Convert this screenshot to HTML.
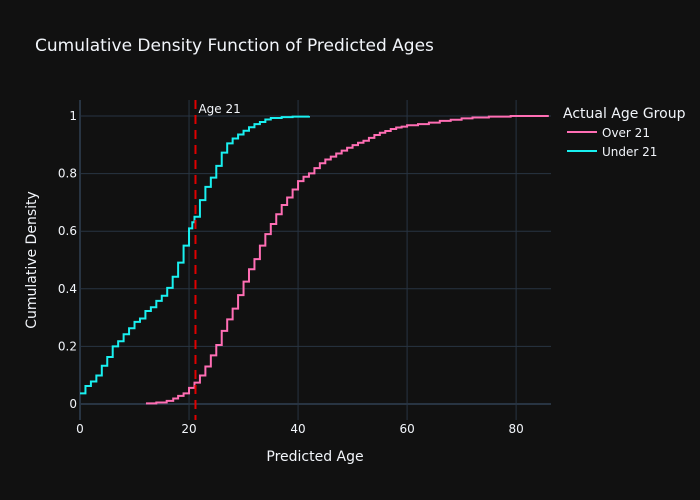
<!DOCTYPE html>
<html><head><meta charset="utf-8"><style>
html,body{margin:0;padding:0;background:#111111;}
svg{display:block;font-family:"DejaVu Sans","Liberation Sans",sans-serif;}
</style></head><body>
<svg id="chart" width="700" height="500">
<rect width="700" height="500" fill="#111111"/>
<text x="35" y="51" font-size="17" fill="#f2f5fa">Cumulative Density Function of Predicted Ages</text>
<g id="grid"></g>
<g id="series"></g>
<g id="ticks"></g>
<text x="315" y="461" font-size="14" fill="#f2f5fa" text-anchor="middle">Predicted Age</text>
<text transform="translate(36,260) rotate(-90)" font-size="14" fill="#f2f5fa" text-anchor="middle">Cumulative Density</text>
<g>
<text x="563" y="118" font-size="14" fill="#f2f5fa">Actual Age Group</text>
<g><line x1="567" y1="132" x2="597" y2="132" stroke="#FF6EB4" stroke-width="2"/><text x="602" y="137" font-size="12" fill="#f2f5fa">Over 21</text></g>
<g><line x1="567" y1="151" x2="597" y2="151" stroke="#19F0F0" stroke-width="2"/><text x="602" y="156" font-size="12" fill="#f2f5fa">Under 21</text></g>
</g>
</svg>
<script>
const underAges=[0,1,2,3,4,5,6,7,8,9,10,11,12,13,14,15,16,17,18,19,20,20.6,21,22,23,24,25,26,27,28,29,30,31,32,33,34,35,37,39,42];
const underCdf=[0.037,0.0625,0.078,0.099,0.133,0.163,0.2,0.218,0.242,0.263,0.285,0.297,0.323,0.336,0.358,0.376,0.403,0.442,0.491,0.55,0.61,0.631,0.65,0.708,0.754,0.786,0.827,0.873,0.905,0.922,0.936,0.949,0.961,0.972,0.979,0.988,0.993,0.996,0.998,1.0];
const overAges=[12.1,14,15.9,17.1,18,19,20,21,22,23,24,25,26,27,28,29,30,31,32,33,34,35,36,37,38,39,40,41,42,43,44,45,46,47,48,49,50,51,52,53,54,55,56,57,58,59,60,62,64,66,68,70,72,75,79,86];
const overCdf=[0.002,0.005,0.011,0.019,0.028,0.037,0.056,0.074,0.099,0.13,0.169,0.205,0.254,0.294,0.331,0.378,0.425,0.468,0.503,0.55,0.59,0.625,0.659,0.691,0.717,0.745,0.774,0.789,0.801,0.819,0.836,0.849,0.859,0.87,0.88,0.89,0.899,0.907,0.914,0.924,0.934,0.942,0.948,0.955,0.96,0.963,0.968,0.972,0.977,0.983,0.987,0.992,0.995,0.998,1.0,1.0];
const xTicks=[0,20,40,60,80];
const yTicks=[0,0.2,0.4,0.6,0.8,1];
const yTickLabels=["0","0.2","0.4","0.6","0.8","1"];
const vlineX=21;

const NS="http://www.w3.org/2000/svg";
const L=80,R=551,T=100,B=420;
const xMin=0,xMax=86.4,yMin=-0.0556,yMax=1.0556;
const xs=v=>L+(v-xMin)/(xMax-xMin)*(R-L);
const ys=v=>B-(v-yMin)/(yMax-yMin)*(B-T);
function mk(tag,attrs,parent){const e=document.createElementNS(NS,tag);for(const k in attrs)e.setAttribute(k,attrs[k]);parent.appendChild(e);return e;}
const grid=document.getElementById('grid'),ticks=document.getElementById('ticks'),series=document.getElementById('series');
xTicks.forEach(t=>{
  const g=mk('line',{x1:xs(t),x2:xs(t),y1:T,y2:B,stroke:'#283442','stroke-width':t===0?2:1},grid);
  
  
  const tx=mk('text',{x:xs(t),y:B+13,'font-size':12,fill:'#f2f5fa','text-anchor':'middle'},ticks);
  tx.textContent=t;
  
  
});
yTicks.forEach((t,i)=>{
  const g=mk('line',{x1:L,x2:R,y1:ys(t),y2:ys(t),stroke:'#283442','stroke-width':t===0?2:1},grid);
  
  
  const tx=mk('text',{x:L-3,y:ys(t)+4,'font-size':12,fill:'#f2f5fa','text-anchor':'end'},ticks);
  tx.textContent=yTickLabels[i];
  
  
});
function stepPath(a,c){let d='M'+xs(a[0])+','+ys(c[0]);for(let i=1;i<a.length;i++){d+=' H'+xs(a[i])+' V'+ys(c[i]);}return d;}
const p1=mk('path',{d:stepPath(overAges,overCdf),fill:'none',stroke:'#FF6EB4','stroke-width':2},series);


const p2=mk('path',{d:stepPath(underAges,underCdf),fill:'none',stroke:'#19F0F0','stroke-width':2},series);


const vl=mk('line',{x1:xs(vlineX)+1,x2:xs(vlineX)+1,y1:T,y2:B,stroke:'#e00000','stroke-width':2,'stroke-dasharray':'9,6'},series);


const at=mk('text',{x:xs(vlineX)+4,y:T+13,'font-size':12,fill:'#f2f5fa'},series);
at.textContent='Age 21';


</script>
</body></html>
